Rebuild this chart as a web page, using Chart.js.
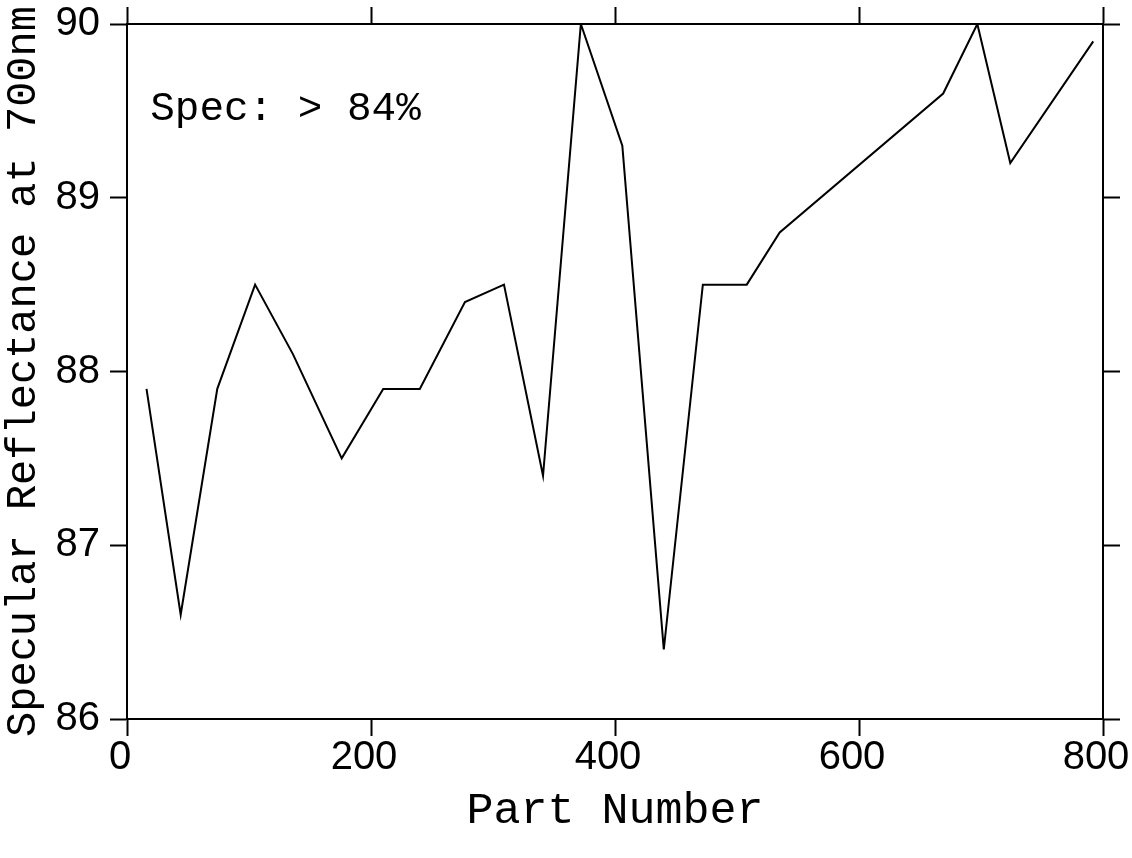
<!DOCTYPE html>
<html>
<head>
<meta charset="utf-8">
<style>
  html, body { margin: 0; padding: 0; background: #fff; }
</style>
<script src="https://cdn.jsdelivr.net/npm/chart.js@4.4.1/dist/chart.umd.min.js"></script>
</head>
<body>
<canvas id="chart" width="1132" height="858"></canvas>
<script>
// values
const partNumbers = [16, 44, 74, 105, 136, 176, 210, 240, 277, 309, 341, 372, 406, 440, 472, 508, 535, 669, 697, 724, 792];
const reflectance = [87.9, 86.6, 87.9, 88.5, 88.1, 87.5, 87.9, 87.9, 88.4, 88.5, 87.4, 90.0, 89.3, 86.4, 88.5, 88.5, 88.8, 89.6, 90.0, 89.2, 89.9];
const xTicks = [0, 200, 400, 600, 800];
const yTicks = [86, 87, 88, 89, 90];
const xTitle = "Part Number";
const yTitle = "Specular Reflectance at 700nm";
const specText = "Spec: > 84%";

const monoFont = "'Liberation Mono', monospace";
const tickFont = { family: "'Liberation Sans', Arial, sans-serif", size: 40, lineHeight: 1 };

// tick marks on all four sides, no grid inside the plot
const frame = (extra) => Object.assign({
  border: { display: true, color: "#000", width: 2 },
  grid: { drawOnChartArea: false, drawTicks: true, tickLength: 17, tickColor: "#000", tickWidth: 2 },
}, extra);

const specLabel = {
  id: "specLabel",
  afterDraw(chart) {
    const { ctx, scales } = chart;
    ctx.save();
    ctx.font = "41px " + monoFont;
    ctx.fillStyle = "#000";
    ctx.textBaseline = "alphabetic";
    ctx.fillText(specText, scales.x.getPixelForValue(19), scales.y.getPixelForValue(89.45));
    ctx.restore();
  },
};

new Chart(document.getElementById("chart"), {
  type: "line",
  data: {
    datasets: [{
      data: partNumbers.map((x, i) => ({ x, y: reflectance[i] })),
      borderColor: "#000",
      borderWidth: 2,
      pointRadius: 0,
      tension: 0,
      fill: false,
    }],
  },
  options: {
    responsive: false,
    devicePixelRatio: 1,
    animation: false,
    layout: { padding: 0 },
    plugins: { legend: { display: false }, tooltip: { enabled: false } },
    scales: {
      x: frame({
        type: "linear", position: "bottom", min: 0, max: 800,
        afterBuildTicks: s => { s.ticks = xTicks.map(value => ({ value })); },
        afterFit: s => { s.height = 139; s.paddingLeft = 0; s.paddingRight = 0; },
        ticks: { color: "#000", font: tickFont, padding: 2, maxRotation: 0, labelOffset: -7 },
        title: { display: true, text: xTitle, color: "#000", font: { family: monoFont, size: 45, lineHeight: 1 }, padding: { top: 0, bottom: 24 } },
      }),
      x2: frame({
        type: "linear", position: "top", min: 0, max: 800,
        afterBuildTicks: s => { s.ticks = xTicks.map(value => ({ value })); },
        afterFit: s => { s.height = 24; s.paddingLeft = 0; s.paddingRight = 0; },
        ticks: { display: false },
      }),
      y: frame({
        type: "linear", position: "left", min: 86, max: 90,
        afterBuildTicks: s => { s.ticks = yTicks.map(value => ({ value })); },
        afterFit: s => { s.width = 127; s.paddingTop = 0; s.paddingBottom = 0; },
        ticks: { color: "#000", font: tickFont, padding: 10 },
        title: { display: true, text: yTitle, color: "#000", font: { family: monoFont, size: 42, lineHeight: 1 }, padding: { top: 3, bottom: 0 } },
      }),
      y2: frame({
        type: "linear", position: "right", min: 86, max: 90,
        afterBuildTicks: s => { s.ticks = yTicks.map(value => ({ value })); },
        afterFit: s => { s.width = 29; s.paddingTop = 0; s.paddingBottom = 0; },
        ticks: { display: false },
      }),
    },
  },
  plugins: [specLabel],
});
</script>
</body>
</html>
